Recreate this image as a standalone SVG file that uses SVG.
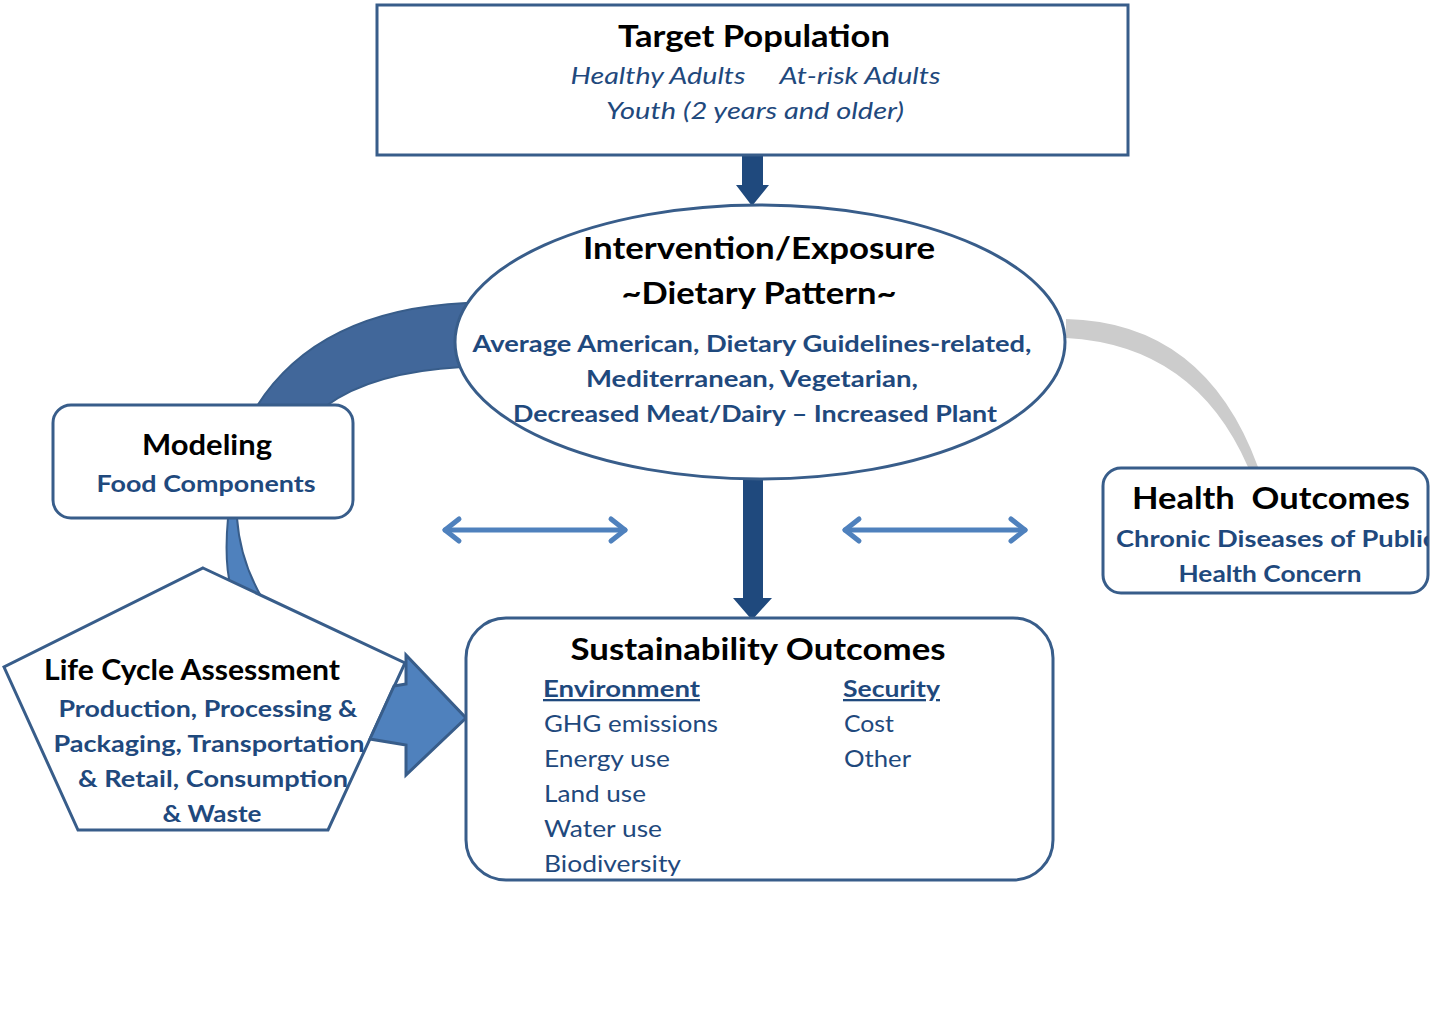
<svg xmlns="http://www.w3.org/2000/svg" width="1454" height="1013" viewBox="0 0 1454 1013">
<style>
.box{fill:#fff;stroke:#385d8a;stroke-width:3}
.t{font-family:Lato,"Open Sans","Liberation Sans",sans-serif;font-weight:bold;fill:#000;text-anchor:middle}
.b{font-family:Lato,"Open Sans","Liberation Sans",sans-serif;font-weight:bold;fill:#1f497d;text-anchor:middle}
.i{font-family:Lato,"Open Sans","Liberation Sans",sans-serif;font-style:italic;fill:#1f497d;text-anchor:middle}
.r{font-family:Lato,"Open Sans","Liberation Sans",sans-serif;fill:#1f497d}
.u{font-family:Lato,"Open Sans","Liberation Sans",sans-serif;font-weight:bold;fill:#1f497d;text-decoration:underline}
.dbl{stroke:#4f81bd;stroke-width:5;fill:none;stroke-linecap:round;stroke-linejoin:round}
</style>
<defs>
<clipPath id="hclip"><rect x="1104" y="469" width="324" height="123"/></clipPath>
</defs>
<rect width="1454" height="1013" fill="#fff"/>
<g id="connectors">
<path d="M466 303 Q318 310 257 406 L326 406 Q372 372 462 367 Z" fill="#41679a" stroke="#385d8a" stroke-width="2"/>
<path d="M228 518 Q224 562 231 588 L262 598 Q240 560 237 518 Z" fill="#4f81bd" stroke="#385d8a" stroke-width="2"/>
<path d="M1066 319 Q1205 322 1258 467 L1248 467 Q1195 345 1066 338 Z" fill="#cccccc"/>
<polygon points="742,155 763,155 763,185 769,185 752,206 736,185 742,185" fill="#1f497d"/>
<polygon points="743,479 763,479 763,598 772,598 752,620 733,598 743,598" fill="#1f497d"/>
<g class="dbl">
<line x1="445" y1="530" x2="625" y2="530"/>
<polyline points="459,519 445,530 459,541"/>
<polyline points="611,519 625,530 611,541"/>
<line x1="845" y1="530" x2="1025" y2="530"/>
<polyline points="859,519 845,530 859,541"/>
<polyline points="1011,519 1025,530 1011,541"/>
</g>
</g>
<g id="target">
<rect class="box" x="377" y="5" width="751" height="150"/>
<text class="t" x="754" y="47" font-size="30" textLength="272" lengthAdjust="spacingAndGlyphs">Target Population</text>
<text class="i" x="658" y="84" font-size="23" textLength="175" lengthAdjust="spacingAndGlyphs">Healthy Adults</text>
<text class="i" x="860" y="84" font-size="23" textLength="161" lengthAdjust="spacingAndGlyphs">At-risk Adults</text>
<text class="i" x="755" y="119" font-size="23" textLength="298" lengthAdjust="spacingAndGlyphs">Youth (2 years and older)</text>
</g>
<g id="intervention">
<ellipse class="box" cx="760" cy="342" rx="305" ry="137"/>
<text class="t" x="759" y="259" font-size="30" textLength="352" lengthAdjust="spacingAndGlyphs">Intervention/Exposure</text>
<text class="t" x="759" y="304" font-size="30" textLength="275" lengthAdjust="spacingAndGlyphs">~Dietary Pattern~</text>
<text class="b" x="752" y="352" font-size="23" textLength="559" lengthAdjust="spacingAndGlyphs">Average American, Dietary Guidelines-related,</text>
<text class="b" x="752" y="387" font-size="23" textLength="332" lengthAdjust="spacingAndGlyphs">Mediterranean, Vegetarian,</text>
<text class="b" x="755" y="422" font-size="23" textLength="484" lengthAdjust="spacingAndGlyphs">Decreased Meat/Dairy – Increased Plant</text>
</g>
<g id="modeling">
<rect class="box" x="53" y="405" width="300" height="113" rx="18"/>
<text class="t" x="207" y="455" font-size="28" textLength="130" lengthAdjust="spacingAndGlyphs">Modeling</text>
<text class="b" x="206" y="492" font-size="23" textLength="219" lengthAdjust="spacingAndGlyphs">Food Components</text>
</g>
<g id="health">
<rect class="box" x="1103" y="468" width="325" height="125" rx="18"/>
<text class="t" x="1271" y="509" font-size="30" textLength="278" lengthAdjust="spacingAndGlyphs" xml:space="preserve">Health  Outcomes</text>
<g clip-path="url(#hclip)">
<text class="b" x="1116" y="547" font-size="23" style="text-anchor:start" textLength="320" lengthAdjust="spacingAndGlyphs">Chronic Diseases of Public</text>
</g>
<text class="b" x="1270" y="582" font-size="23" textLength="183" lengthAdjust="spacingAndGlyphs">Health Concern</text>
</g>
<g id="lca">
<polygon class="box" points="203,568 405,663 328,830 78,830 4,667"/>
<text class="t" x="192" y="680" font-size="28" textLength="296" lengthAdjust="spacingAndGlyphs">Life Cycle Assessment</text>
<text class="b" x="208" y="717" font-size="23" textLength="299" lengthAdjust="spacingAndGlyphs">Production, Processing &amp;</text>
<text class="b" x="209" y="752" font-size="23" textLength="311" lengthAdjust="spacingAndGlyphs">Packaging, Transportation</text>
<text class="b" x="213" y="787" font-size="23" textLength="270" lengthAdjust="spacingAndGlyphs">&amp; Retail, Consumption</text>
<text class="b" x="212" y="822" font-size="23" textLength="99" lengthAdjust="spacingAndGlyphs">&amp; Waste</text>
<polygon points="394,686 406,684 406,655 466,718 406,775 406,745 370,739" fill="#4f81bd" stroke="#385d8a" stroke-width="3" stroke-linejoin="miter"/>
</g>
<g id="sustainability">
<rect class="box" x="466" y="618" width="587" height="262" rx="40"/>
<text class="t" x="758" y="660" font-size="30" textLength="375" lengthAdjust="spacingAndGlyphs">Sustainability Outcomes</text>
<text class="u" x="543" y="697" font-size="23" textLength="157" lengthAdjust="spacingAndGlyphs">Environment</text>
<text class="u" x="843" y="697" font-size="23" textLength="97" lengthAdjust="spacingAndGlyphs">Security</text>
<text class="r" x="544" y="732" font-size="23" textLength="174" lengthAdjust="spacingAndGlyphs">GHG emissions</text>
<text class="r" x="544" y="767" font-size="23" textLength="126" lengthAdjust="spacingAndGlyphs">Energy use</text>
<text class="r" x="544" y="802" font-size="23" textLength="102" lengthAdjust="spacingAndGlyphs">Land use</text>
<text class="r" x="544" y="837" font-size="23" textLength="118" lengthAdjust="spacingAndGlyphs">Water use</text>
<text class="r" x="544" y="872" font-size="23" textLength="137" lengthAdjust="spacingAndGlyphs">Biodiversity</text>
<text class="r" x="844" y="732" font-size="23" textLength="50" lengthAdjust="spacingAndGlyphs">Cost</text>
<text class="r" x="844" y="767" font-size="23" textLength="67" lengthAdjust="spacingAndGlyphs">Other</text>
</g>
</svg>
